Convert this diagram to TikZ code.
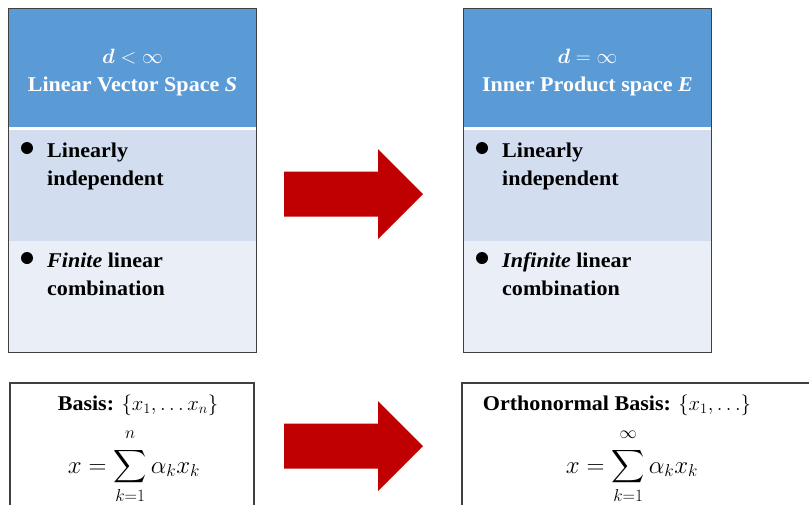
\documentclass[tikz,border=0pt]{standalone}
\usepackage{fontspec}
\setmainfont{Liberation Serif}[FakeStretch=1.05]
\usepackage{amsmath}
\usepackage{amssymb}
\usetikzlibrary{positioning}
\definecolor{hdrblue}{HTML}{5B9BD5}
\definecolor{bandA}{HTML}{D2DEEF}
\definecolor{bandB}{HTML}{EAEFF7}
\definecolor{arrred}{HTML}{C00000}
\definecolor{frame}{HTML}{404040}
\newcommand{\limlift}{\rule[-7pt]{0pt}{7pt}}

\begin{document}
\begin{tikzpicture}[x=1pt,y=-1pt,
  hdr/.style={fill=hdrblue,minimum width=247pt,minimum height=118pt,inner sep=0pt},
  band/.style={minimum width=247pt,minimum height=111pt,inner sep=0pt},
  dot/.style={circle,fill=black,minimum size=12pt,inner sep=0pt},
  item/.style={anchor=base west,align=left,inner sep=0pt,font=\fontsize{21}{28}\selectfont\bfseries},
  htxt/.style={anchor=base,align=center,inner sep=0pt,text=white,font=\fontsize{21}{28}\selectfont\bfseries},
  mtxt/.style={anchor=base,inner sep=0pt,font=\fontsize{21}{28}\selectfont},
  stxt/.style={anchor=base,inner sep=0pt,font=\fontsize{23}{28}\selectfont},
  frm/.style={draw=frame,line width=1.2pt},
  blockarrow/.style={fill=arrred}]
\useasboundingbox (0,0) rectangle (809,504);

\node[hdr] (hdrS) at (132.5,68) {};
\node[band,fill=bandA] (indS) at (132.5,185.5) {};
\node[band,fill=bandB] (combS) at (132.5,296.5) {};
\draw[frm] (hdrS.north west) rectangle (combS.south east);
\node[htxt] (titleS) at (132.5,91) {$\boldsymbol{d}<\infty$\\Linear Vector Space \textit{S}};
\node[dot] (dotS1) at (27,148) {};
\node[item] (itemS1) at (47,185) {Linearly\\independent};
\node[dot] (dotS2) at (27,258) {};
\node[item] (itemS2) at (47,295.5) {\textit{Finite} linear\\combination};

\node[hdr] (hdrE) at (587.5,68) {};
\node[band,fill=bandA] (indE) at (587.5,185.5) {};
\node[band,fill=bandB] (combE) at (587.5,296.5) {};
\draw[frm] (hdrE.north west) rectangle (combE.south east);
\node[htxt] (titleE) at (587.5,91) {$\boldsymbol{d}=\infty$\\Inner Product space \textit{E}};
\node[dot] (dotE1) at (482,148) {};
\node[item] (itemE1) at (502,185) {Linearly\\independent};
\node[dot] (dotE2) at (482,258) {};
\node[item] (itemE2) at (502,295.5) {\textit{Infinite} linear\\combination};

\foreach \ay in {194,446}
  \fill[blockarrow] (284,{\ay-22.5}) -- (378,{\ay-22.5}) -- (378,{\ay-45}) -- (423,\ay)
    -- (378,{\ay+45}) -- (378,{\ay+22.5}) -- (284,{\ay+22.5}) -- cycle;

\node[frm,minimum width=244pt,minimum height=147pt] (basisS) at (132,456.5) {};
\node[mtxt] (setS) at (138,410) {\textbf{Basis:} $\{x_1,\ldots x_n\}$};
\node[stxt] (sumS) at (134,473) {$x=\displaystyle\sum_{k=1}^{n\limlift}\alpha_k x_k$};

\node[frm,minimum width=378pt,minimum height=147pt] (basisE) at (651,456.5) {};
\node[mtxt] (setE) at (617,410) {\textbf{Orthonormal Basis:} $\{x_1,\ldots\}$};
\node[stxt] (sumE) at (632,473) {$x=\displaystyle\sum_{k=1}^{\infty\limlift}\alpha_k x_k$};
\end{tikzpicture}
\end{document}
